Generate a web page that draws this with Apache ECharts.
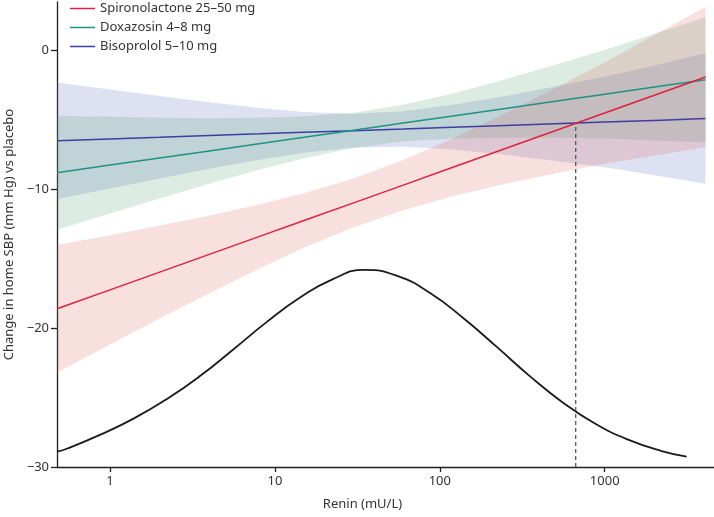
<!DOCTYPE html>
<html>
<head>
<meta charset="utf-8">
<script src="https://cdn.jsdelivr.net/npm/echarts@6/dist/echarts.min.js"></script>
<style>
html,body{margin:0;padding:0;background:#fff;}
#chart{width:714px;height:517px;}
</style>
</head>
<body>
<div id="chart"></div>
<script>
// ---- Data ----
const renin = [0.477, 1, 2, 4, 8, 15, 30, 60, 120, 250, 500, 1000, 2000, 4090];

const spiroMean  = [-18.6, -17.24, -15.96, -14.68, -13.40, -12.24, -10.97, -9.69, -8.41, -7.05, -5.78, -4.50, -3.22, -1.9];
const spiroUpper = [-14.00, -13.30, -12.61, -11.88, -11.09, -10.27, -9.21, -7.88, -6.33, -4.51, -2.71, -0.86, 1.13, 3.15];
const spiroLower = [-23.20, -21.18, -19.31, -17.48, -15.71, -14.21, -12.73, -11.50, -10.49, -9.59, -8.85, -8.14, -7.57, -6.95];

const doxaMean  = [-8.80, -8.25, -7.74, -7.23, -6.71, -6.25, -5.74, -5.22, -4.71, -4.17, -3.65, -3.14, -2.63, -2.10];
const doxaUpper = [-4.70, -4.77, -4.83, -4.87, -4.84, -4.75, -4.47, -3.90, -3.09, -2.06, -1.02, 0.05, 1.22, 2.40];
const doxaLower = [-12.90, -11.73, -10.65, -9.59, -8.58, -7.75, -7.01, -6.54, -6.33, -6.28, -6.28, -6.33, -6.48, -6.60];

const bisoMean  = [-6.50, -6.37, -6.25, -6.12, -6.00, -5.89, -5.77, -5.65, -5.52, -5.39, -5.27, -5.15, -5.03, -4.90];
const bisoUpper = [-2.30, -2.81, -3.28, -3.72, -4.13, -4.42, -4.55, -4.37, -3.91, -3.27, -2.59, -1.89, -1.08, -0.20];
const bisoLower = [-10.70, -9.93, -9.22, -8.52, -7.87, -7.36, -6.99, -6.93, -7.13, -7.51, -7.95, -8.41, -8.98, -9.60];

// Renin distribution curve (drawn in y-axis units)
const densityRenin = [0.477, 0.557, 0.882, 1.398, 2.216, 3.512, 5.566, 8.822, 13.98, 22.16, 35.12, 55.66, 88.22, 139.8, 221.6, 351.2, 556.6, 882.2, 1398, 2216, 3140];
const densityY     = [-28.9, -28.65, -27.65, -26.5, -25.1, -23.45, -21.55, -19.6, -17.85, -16.5, -15.8, -16.25, -17.5, -19.3, -21.35, -23.45, -25.35, -26.9, -28.05, -28.85, -29.25];

// Vertical dashed marker
const cutoffRenin = 667;
const cutoffY = [-30, -5.3];

const seriesNames = ['Spironolactone 25–50 mg', 'Doxazosin 4–8 mg', 'Bisoprolol 5–10 mg'];
const yTicks = [-30, -20, -10, 0];
const xTicks = [1, 10, 100, 1000];

// ---- Build ----
const colors = {spiro: '#e0203f', doxa: '#1f9282', biso: '#3b3fa5'};
const bandFill = {
  spiro: 'rgba(215,85,75,0.18)',
  doxa: 'rgba(60,150,100,0.18)',
  biso: 'rgba(95,115,190,0.21)'
};

function band(upper, lower, fill) {
  return {
    type: 'custom',
    silent: true,
    data: [[renin[0], upper[0]]],
    encode: {x: 0, y: 1},
    renderItem: function (params, api) {
      const pts = [];
      for (let i = 0; i < renin.length; i++) pts.push(api.coord([renin[i], upper[i]]));
      for (let i = renin.length - 1; i >= 0; i--) pts.push(api.coord([renin[i], lower[i]]));
      return {type: 'polygon', shape: {points: pts}, style: {fill: fill, stroke: null}};
    }
  };
}
function line(name, vals, color) {
  return {
    name: name, type: 'line', silent: true, symbol: 'none',
    data: renin.map((r, i) => [r, vals[i]]),
    lineStyle: {color: color, width: 1.5},
    itemStyle: {color: color}
  };
}
const fmtY = v => (v < 0 ? '\u2212' + (-v) : String(v));
const textCol = '#333';
const fontFam = '"Noto Sans", sans-serif';

const option = {
  animation: false,
  backgroundColor: '#fff',
  legend: {
    data: seriesNames,
    orient: 'vertical',
    left: 65, top: -4,
    icon: 'rect',
    itemWidth: 25, itemHeight: 1.5,
    itemGap: 4,
    textStyle: {fontFamily: fontFam, fontSize: 13, color: textCol, lineHeight: 15}
  },
  grid: {left: 57, right: 0, top: 2, bottom: 50, containLabel: false, outerBoundsMode: 'none'},
  xAxis: {
    type: 'log', logBase: 10, min: 0.477, max: 4600,
    name: 'Renin (mU/L)', nameLocation: 'middle', nameGap: 31,
    nameTextStyle: {fontFamily: fontFam, fontSize: 13, color: textCol, padding: [0, 46, 0, 0]},
    axisLine: {onZero: false, lineStyle: {color: '#231f20', width: 1.3}},
    axisTick: {length: 5, lineStyle: {color: '#231f20', width: 1.3}},
    splitLine: {show: false},
    axisLabel: {
      fontFamily: fontFam, fontSize: 13, color: textCol, margin: 8,
      showMinLabel: false, showMaxLabel: false,
      formatter: v => (xTicks.indexOf(Math.round(v)) >= 0 && Math.abs(v - Math.round(v)) < 1e-6 ? String(Math.round(v)) : '')
    }
  },
  yAxis: {
    type: 'value', min: -30, max: 3.5,
    name: 'Change in home SBP (mm Hg) vs placebo', nameLocation: 'middle', nameGap: 41,
    nameTextStyle: {fontFamily: fontFam, fontSize: 13, color: textCol},
    axisLine: {show: true, onZero: false, lineStyle: {color: '#231f20', width: 1.3}},
    axisTick: {show: true, length: 6, customValues: yTicks, lineStyle: {color: '#231f20', width: 1.3}},
    splitLine: {show: false},
    axisLabel: {customValues: yTicks, fontFamily: fontFam, fontSize: 13, color: textCol, margin: 8, formatter: fmtY}
  },
  series: [
    band(bisoUpper, bisoLower, bandFill.biso),
    line(seriesNames[2], bisoMean, colors.biso),
    band(doxaUpper, doxaLower, bandFill.doxa),
    line(seriesNames[1], doxaMean, colors.doxa),
    band(spiroUpper, spiroLower, bandFill.spiro),
    line(seriesNames[0], spiroMean, colors.spiro),
    {
      type: 'line', silent: true, symbol: 'none', smooth: 0.5,
      data: densityRenin.map((r, i) => [r, densityY[i]]),
      lineStyle: {color: '#1a1a1a', width: 1.8}
    },
    {
      type: 'line', silent: true, symbol: 'none',
      data: cutoffY.map(y => [cutoffRenin, y]),
      lineStyle: {color: '#4b5a68', width: 1.3, type: [4, 3]}
    }
  ]
};
const chart = echarts.init(document.getElementById('chart'), null, {renderer: 'canvas'});
chart.setOption(option);
</script>
</body>
</html>
